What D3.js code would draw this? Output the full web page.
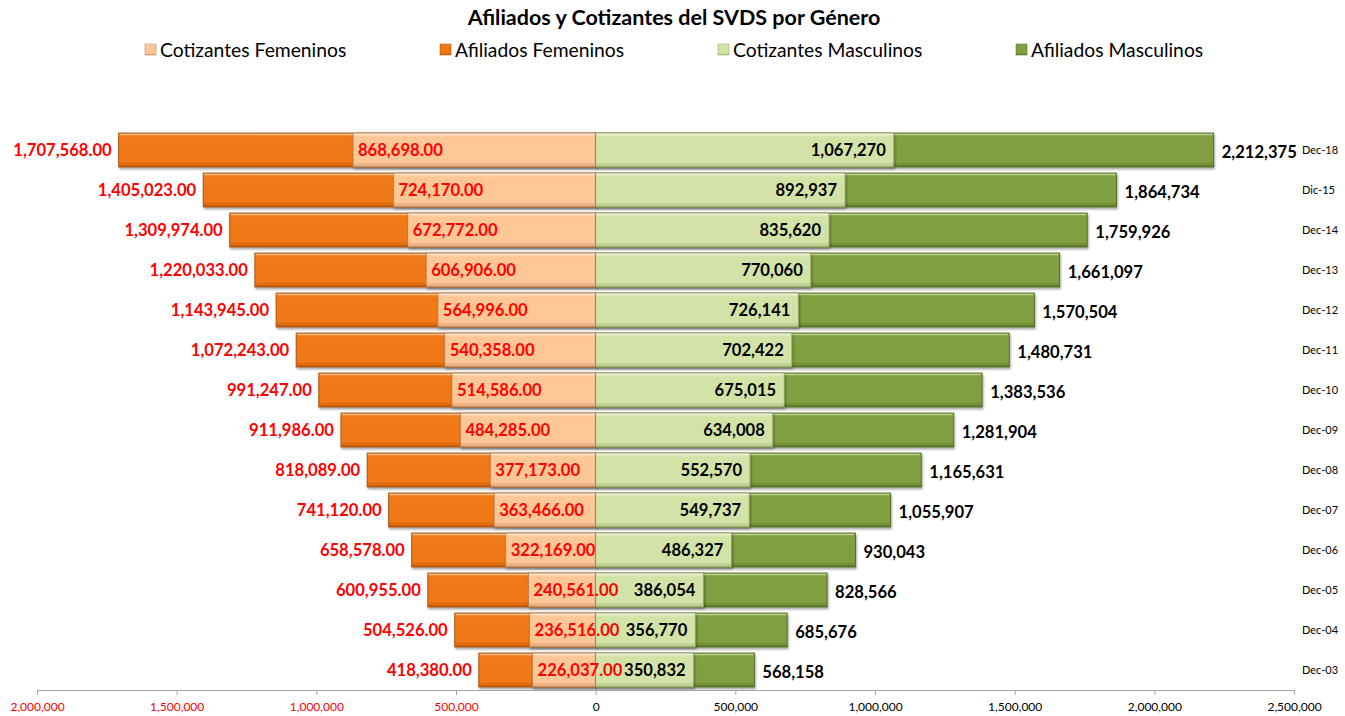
<!DOCTYPE html>
<html>
<head>
<meta charset="utf-8">
<script src="https://cdn.jsdelivr.net/npm/d3@7"></script>
<style>
  html, body { margin: 0; padding: 0; background: #fff; }
  svg { display: block; font-family: Lato, "Open Sans", sans-serif; }
</style>
</head>
<body>
<svg id="chart" width="1345" height="716"></svg>
<script>
const categories = ["Dec-18","Dic-15","Dec-14","Dec-13","Dec-12","Dec-11","Dec-10","Dec-09","Dec-08","Dec-07","Dec-06","Dec-05","Dec-04","Dec-03"];
const afiliadosFemeninos = [1707568,1405023,1309974,1220033,1143945,1072243,991247,911986,818089,741120,658578,600955,504526,418380];
const cotizantesFemeninos = [868698,724170,672772,606906,564996,540358,514586,484285,377173,363466,322169,240561,236516,226037];
const cotizantesMasculinos = [1067270,892937,835620,770060,726141,702422,675015,634008,552570,549737,486327,386054,356770,350832];
const afiliadosMasculinos = [2212375,1864734,1759926,1661097,1570504,1480731,1383536,1281904,1165631,1055907,930043,828566,685676,568158];
const tickValues = [-2000000,-1500000,-1000000,-500000,0,500000,1000000,1500000,2000000,2500000];
const legendLabels = ["Cotizantes Femeninos","Afiliados Femeninos","Cotizantes Masculinos","Afiliados Masculinos"];
const title = "Afiliados y Cotizantes del SVDS por Género";

const svg = d3.select("#chart");
const x = d3.scaleLinear().domain([-2000000, 2500000]).range([37, 1294]);
const y = d3.scaleBand().domain(categories).range([130, 690]).paddingInner(0.15).paddingOuter(0.075);

const colors = {
  cf: {base:"#FFC796", light:"#FFE0C4", dark:"#D9A070", edge:"#B07A4A"},
  af: {base:"#F07814", light:"#F8A050", dark:"#C85A08", edge:"#9A4606"},
  cm: {base:"#D3E3A8", light:"#E8F2CC", dark:"#AEC27E", edge:"#8A9C5C"},
  am: {base:"#7F9F40", light:"#9CBC5C", dark:"#5F7C28", edge:"#4A601C"}
};

const defs = svg.append("defs");
Object.entries(colors).forEach(([k, c]) => {
  const g = defs.append("linearGradient").attr("id", "g-" + k).attr("x1", 0).attr("y1", 0).attr("x2", 0).attr("y2", 1);
  g.append("stop").attr("offset", "0%").attr("stop-color", c.light);
  g.append("stop").attr("offset", "12%").attr("stop-color", c.base);
  g.append("stop").attr("offset", "85%").attr("stop-color", c.base);
  g.append("stop").attr("offset", "100%").attr("stop-color", c.dark);
});
const f = defs.append("filter").attr("id", "shadow").attr("x", "-5%").attr("y", "-20%").attr("width", "110%").attr("height", "150%");
f.append("feDropShadow").attr("dx", 1).attr("dy", 2).attr("stdDeviation", 1.2).attr("flood-color", "#000").attr("flood-opacity", 0.35);

// Title
svg.append("text").attr("x", 674).attr("y", 25).attr("text-anchor", "middle")
  .attr("font-weight", "bold").attr("font-size", 21.5).attr("fill", "#000").text(title);

// Legend
const legendX = [145, 440, 718, 1016];
const legendKeys = ["cf", "af", "cm", "am"];
legendLabels.forEach((lab, i) => {
  const g = svg.append("g").attr("transform", `translate(${legendX[i]},50)`);
  g.append("rect").attr("x", 0).attr("y", -6).attr("width", 11).attr("height", 11)
    .attr("fill", `url(#g-${legendKeys[i]})`).attr("stroke", colors[legendKeys[i]].edge).attr("stroke-width", 0.5);
  g.append("text").attr("x", 15).attr("y", 0).attr("dy", "0.35em").attr("font-size", 19.3).attr("fill", "#000").text(lab);
});

const rows = categories.map((c, i) => ({
  cat: c, af: afiliadosFemeninos[i], cf: cotizantesFemeninos[i], cm: cotizantesMasculinos[i], am: afiliadosMasculinos[i]
}));

function drawBars(key, sign) {
  const c = colors[key];
  const g = svg.append("g").attr("class", "bars-" + key);
  const sel = g.selectAll("g").data(rows).enter().append("g");
  sel.append("rect")
    .attr("x", d => sign < 0 ? x(-d[key]) : x(0))
    .attr("y", d => y(d.cat))
    .attr("width", d => Math.abs(x(sign * d[key]) - x(0)))
    .attr("height", y.bandwidth())
    .attr("fill", `url(#g-${key})`)
    .attr("stroke", c.edge).attr("stroke-width", 0.8)
    .attr("filter", "url(#shadow)");
  // top highlight line
  sel.append("line")
    .attr("x1", d => (sign < 0 ? x(-d[key]) : x(0)) + 1.5)
    .attr("x2", d => (sign < 0 ? x(0) : x(d[key])) - 1.5)
    .attr("y1", d => y(d.cat) + 1.5).attr("y2", d => y(d.cat) + 1.5)
    .attr("stroke", "#fff").attr("stroke-opacity", 0.45).attr("stroke-width", 1.2);
}
drawBars("af", -1);
drawBars("cf", -1);
drawBars("am", 1);
drawBars("cm", 1);

const fmt2 = d3.format(",.2f");
const fmt0 = d3.format(",");
const cy = d => y(d.cat) + y.bandwidth() / 2;

const labels = svg.append("g").attr("font-weight", "bold").attr("font-size", 16.6);
// Afiliados femeninos: outside end (left)
labels.selectAll(".laf").data(rows).enter().append("text")
  .attr("x", d => x(-d.af) - 7).attr("y", cy).attr("dy", "0.35em")
  .attr("text-anchor", "end").attr("fill", "#FF0000").text(d => fmt2(d.af));
// Cotizantes femeninos
labels.selectAll(".lcf").data(rows).enter().append("text")
  .attr("x", d => x(-d.cf) + 5).attr("y", cy).attr("dy", "0.35em")
  .attr("text-anchor", "start").attr("fill", "#FF0000").text(d => fmt2(d.cf));
// Cotizantes masculinos: inside end
labels.selectAll(".lcm").data(rows).enter().append("text")
  .attr("x", d => x(d.cm) - 8).attr("y", cy).attr("dy", "0.35em")
  .attr("text-anchor", "end").attr("fill", "#000").text(d => fmt0(d.cm));
// Afiliados masculinos: outside end
labels.selectAll(".lam").data(rows).enter().append("text")
  .attr("x", d => x(d.am) + 8).attr("y", d => cy(d) + 2).attr("dy", "0.35em")
  .attr("text-anchor", "start").attr("fill", "#000").text(d => fmt0(d.am));

// Category labels on the right
svg.append("g").selectAll("text").data(categories).enter().append("text")
  .attr("x", 1302).attr("y", d => y(d) + y.bandwidth() / 2).attr("dy", "0.35em")
  .attr("font-size", 11).attr("fill", "#000").text(d => d);

// X axis
const axis = d3.axisBottom(x).tickValues(tickValues).tickSize(5).tickFormat(d => fmt0(Math.abs(d)));
const ax = svg.append("g").attr("transform", "translate(0,690)").call(axis);
ax.select(".domain").attr("stroke", "#A6A6A6");
ax.selectAll(".tick line").attr("stroke", "#A6A6A6");
ax.selectAll(".tick text").attr("font-family", "Lato, sans-serif").attr("font-size", 12)
  .attr("dy", "1.1em")
  .attr("fill", d => d < 0 ? "#FF0000" : "#000");
</script>
</body>
</html>
